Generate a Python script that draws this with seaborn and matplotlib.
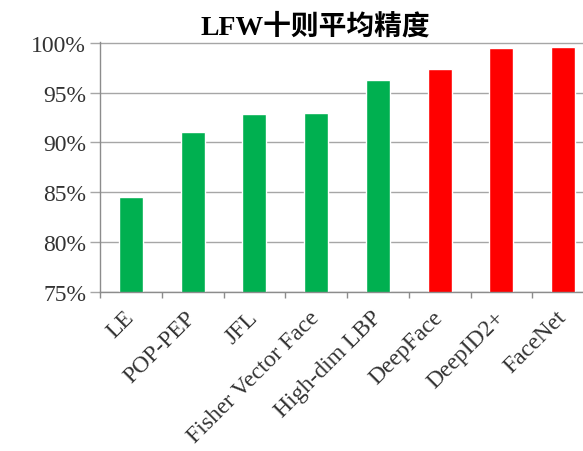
import matplotlib
matplotlib.use("Agg")
import matplotlib.pyplot as plt
import seaborn as sns
import numpy as np
import pandas as pd
from matplotlib.ticker import FuncFormatter, FixedLocator

methods = ["LE", "POP-PEP", "JFL", "Fisher Vector Face", "High-dim LBP",
           "DeepFace", "DeepID2+", "FaceNet"]
accuracy = [84.5, 91.1, 92.9, 93.0, 96.3, 97.35, 99.47, 99.55]
bar_colors = ["#00B050"] * 5 + ["#FF0000"] * 3
y_ticks = [75, 80, 85, 90, 95, 100]
title = "LFW十则平均精度"

sns.set_theme(style="white")
plt.rcParams["font.family"] = ["Liberation Serif", "Noto Sans CJK SC", "DejaVu Sans"]

W, H = 583, 452
fig = plt.figure(figsize=(W / 100, H / 100), dpi=100)
fig.patch.set_facecolor("white")

left_px, bottom_px, top_px = 100, 292.7, 44
cat_w = 61.75
ymax = 100.1
px_per_pct = (bottom_px - top_px) / 25.0
top_eff = bottom_px - px_per_pct * (ymax - 75)
ax = fig.add_axes([left_px / W, 1 - bottom_px / H, 8 * cat_w / W, (bottom_px - top_eff) / H])

df = pd.DataFrame({"method": methods, "acc": accuracy})
sns.barplot(data=df, x="method", y="acc", hue="method", palette=bar_colors,
            legend=False, width=0.39, ax=ax, saturation=1)

ax.set_xlim(-0.5, 7.5)
ax.set_ylim(75, ymax)
ax.set_yticks(y_ticks)
ax.yaxis.set_major_formatter(FuncFormatter(lambda v, p: f"{int(round(v))}%"))
ax.set_xlabel("")
ax.set_ylabel("")

grid_c = "#A6A6A6"
ax.grid(axis="y", color=grid_c, linewidth=1.0)
ax.set_axisbelow(True)
for s in ["top", "right"]:
    ax.spines[s].set_visible(False)
for s in ["left", "bottom"]:
    ax.spines[s].set_color("#8C8C8C")
    ax.spines[s].set_linewidth(1.0)

ax.tick_params(axis="y", which="major", left=True, length=7, width=1.0, color=grid_c,
               direction="out", pad=3, labelsize=17, labelcolor="#333333")
ax.tick_params(axis="x", which="major", bottom=True, length=0, pad=16,
               labelsize=17, labelcolor="#333333")
ax.xaxis.set_minor_locator(FixedLocator(np.arange(-0.5, 8.0, 1.0)))
ax.tick_params(axis="x", which="minor", bottom=True, length=4, width=1.0,
               color="#8C8C8C", direction="out")
for lab in ax.get_xticklabels():
    lab.set_rotation(45)
    lab.set_ha("right")
    lab.set_va("center")
    lab.set_rotation_mode("anchor")

fig.text(315 / W, 1 - 27 / H, title, ha="center", va="center", fontsize=20,
         fontweight="bold", color="black",
         family=["Liberation Serif", "Noto Sans CJK SC"])

fig.savefig("out.png", dpi=100, facecolor="white")
